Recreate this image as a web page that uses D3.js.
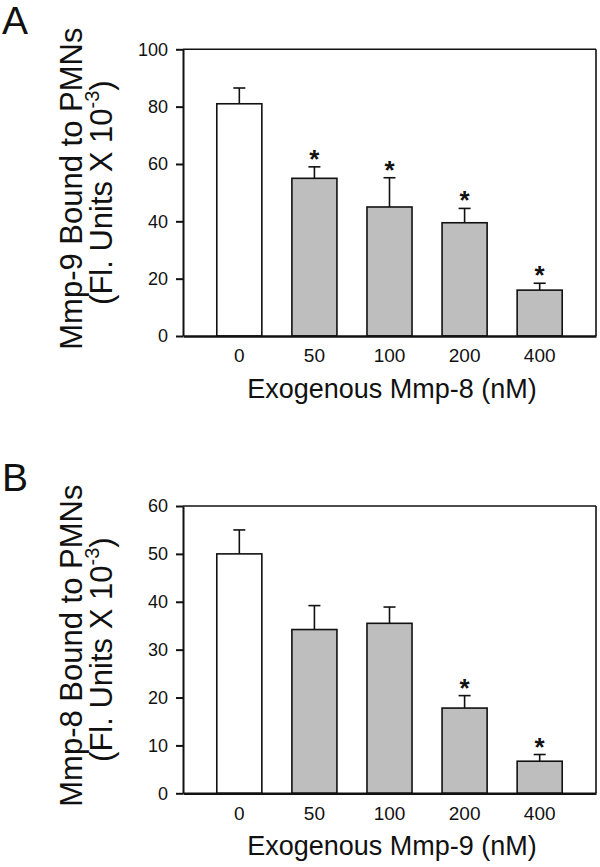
<!DOCTYPE html>
<html>
<head>
<meta charset="utf-8">
<script src="https://cdn.jsdelivr.net/npm/d3@7"></script>
<style>
  html, body { margin: 0; padding: 0; background: #fff; }
  svg { display: block; font-family: "Liberation Sans", Arial, Helvetica, sans-serif; }
</style>
</head>
<body>
<svg id="chart" width="600" height="867"></svg>
<script>
// ---- Data ----
const categories = ["0", "50", "100", "200", "400"];

const panelA_values = [81, 55, 45, 39.5, 16];
const panelA_errors = [5.5, 4, 10.2, 5, 2.4];
const panelA_significant = [false, true, true, true, true];
const panelA_yTicks = [0, 20, 40, 60, 80, 100];

const panelB_values = [50, 34.2, 35.5, 17.8, 6.7];
const panelB_errors = [5, 5, 3.4, 2.6, 1.4];
const panelB_significant = [false, false, false, true, true];
const panelB_yTicks = [0, 10, 20, 30, 40, 50, 60];

const panelLabels = ["A", "B"];
const yTitleLine1 = ["Mmp-9 Bound to PMNs", "Mmp-8 Bound to PMNs"];
const xTitles = ["Exogenous Mmp-8 (nM)", "Exogenous Mmp-9 (nM)"];

// ---- Layout ----
const svg = d3.select("#chart");
const left = 183, right = 596;
const panels = [
  { top: 49.3, bottom: 336, yMax: 100, values: panelA_values, errors: panelA_errors, sig: panelA_significant, ticks: panelA_yTicks, label: panelLabels[0], yTitle: yTitleLine1[0], xTitle: xTitles[0] },
  { top: 506, bottom: 793.3, yMax: 60, values: panelB_values, errors: panelB_errors, sig: panelB_significant, ticks: panelB_yTicks, label: panelLabels[1], yTitle: yTitleLine1[1], xTitle: xTitles[1] }
];

panels.forEach(p => {
  const g = svg.append("g");
  const x = d3.scaleBand().domain(categories).range([left, right]).paddingInner(0.4).paddingOuter(0.45);
  const y = d3.scaleLinear().domain([0, p.yMax]).range([p.bottom, p.top]);
  const data = categories.map((c, i) => ({ c, v: p.values[i], e: p.errors[i], s: p.sig[i], i }));

  // error bars (upper only)
  const capW = 12;
  g.selectAll(".err").data(data).enter().append("line")
    .attr("x1", d => x(d.c) + x.bandwidth() / 2).attr("x2", d => x(d.c) + x.bandwidth() / 2)
    .attr("y1", d => y(d.v)).attr("y2", d => y(d.v + d.e))
    .attr("stroke", "#111").attr("stroke-width", 1.6);
  g.selectAll(".cap").data(data).enter().append("line")
    .attr("x1", d => x(d.c) + x.bandwidth() / 2 - capW / 2).attr("x2", d => x(d.c) + x.bandwidth() / 2 + capW / 2)
    .attr("y1", d => y(d.v + d.e)).attr("y2", d => y(d.v + d.e))
    .attr("stroke", "#111").attr("stroke-width", 1.6);

  // bars
  g.selectAll(".bar").data(data).enter().append("rect")
    .attr("x", d => x(d.c)).attr("width", x.bandwidth())
    .attr("y", d => y(d.v)).attr("height", d => y(0) - y(d.v))
    .attr("fill", d => d.i === 0 ? "#ffffff" : "#bebebe")
    .attr("stroke", "#111").attr("stroke-width", 1.6);

  // asterisks
  g.selectAll(".star").data(data.filter(d => d.s)).enter().append("text")
    .attr("x", d => x(d.c) + x.bandwidth() / 2)
    .attr("y", d => y(d.v + d.e) + 1)
    .attr("text-anchor", "middle")
    .attr("font-size", 26).attr("font-weight", "bold").attr("fill", "#111")
    .text("*");

  // box: top and right
  g.append("line").attr("x1", left).attr("x2", right).attr("y1", p.top).attr("y2", p.top)
    .attr("stroke", "#111").attr("stroke-width", 1.6);
  g.append("line").attr("x1", right).attr("x2", right).attr("y1", p.top).attr("y2", p.bottom)
    .attr("stroke", "#111").attr("stroke-width", 1.6);

  // y axis
  const yAxis = d3.axisLeft(y).tickValues(p.ticks).tickSize(7).tickPadding(8).tickSizeOuter(0);
  const ya = g.append("g").attr("transform", `translate(${left},0)`).call(yAxis);
  ya.select(".domain").attr("stroke", "#111").attr("stroke-width", 2);
  ya.selectAll(".tick line").attr("stroke", "#111").attr("stroke-width", 2);
  ya.selectAll(".tick text").attr("font-size", 18).attr("fill", "#111")
    .attr("font-family", "'Liberation Sans', Arial, sans-serif");

  // x axis
  const xAxis = d3.axisBottom(x).tickSize(0).tickPadding(13).tickSizeOuter(0);
  const xa = g.append("g").attr("transform", `translate(0,${p.bottom})`).call(xAxis);
  xa.select(".domain").attr("stroke", "#111").attr("stroke-width", 2.4);
  xa.selectAll(".tick text").attr("font-size", 19).attr("fill", "#111")
    .attr("font-family", "'Liberation Sans', Arial, sans-serif");

  // x title
  g.append("text").attr("x", 392).attr("y", p.bottom + 62)
    .attr("text-anchor", "middle").attr("font-size", 27).attr("fill", "#111")
    .text(p.xTitle);

  // y title (two lines, rotated)
  const cy = (p.top + p.bottom) / 2 - 4;
  g.append("text").attr("transform", `translate(82,${cy}) rotate(-90)`)
    .attr("text-anchor", "middle").attr("font-size", 31).attr("fill", "#111")
    .text(p.yTitle);
  const t2 = g.append("text").attr("transform", `translate(112,${cy + 4}) rotate(-90)`)
    .attr("text-anchor", "middle").attr("font-size", 31).attr("fill", "#111");
  t2.append("tspan").text("(Fl. Units X 10");
  t2.append("tspan").attr("font-size", 20).attr("dy", -13).text("-3");
  t2.append("tspan").attr("dy", 13).text(")");

  // panel letter
  g.append("text").attr("x", 2).attr("y", p.top - 15)
    .attr("font-size", 39).attr("fill", "#111").text(p.label);
});
</script>
</body>
</html>
